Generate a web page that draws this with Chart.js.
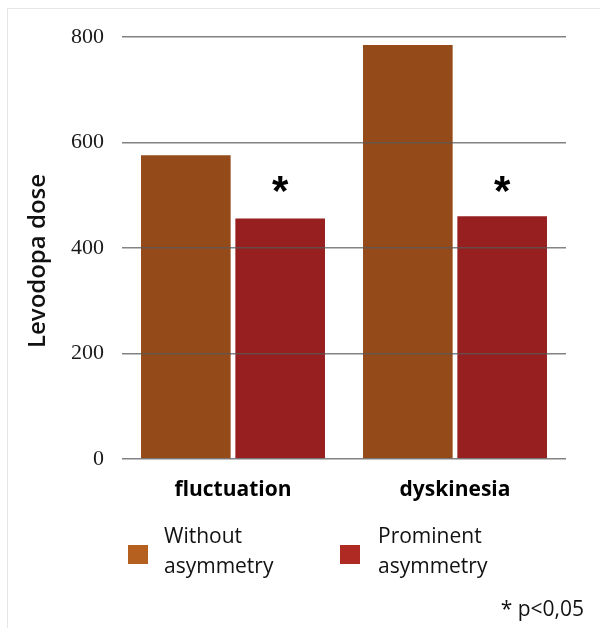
<!DOCTYPE html>
<html><head><meta charset="utf-8">
<script src="https://cdn.jsdelivr.net/npm/chart.js@4/dist/chart.umd.min.js"></script>
<style>html,body{margin:0;padding:0;background:#fff;}#wrap{position:relative;width:600px;height:628px;}
#frame{position:absolute;left:7px;top:8px;width:600px;height:640px;border:1px solid #e6e6e6;box-sizing:border-box;}</style>
</head><body><div id="wrap"><div id="frame"></div><canvas id="c" width="600" height="628"></canvas></div>
<script>
const categories = ["fluctuation", "dyskinesia"];
const seriesNames = [["Without", "asymmetry"], ["Prominent", "asymmetry"]];
const withoutAsymmetry = [576, 785];
const prominentAsymmetry = [456, 460];
const significant = [true, true];
const yTicks = [0, 200, 400, 600, 800];
const yTitle = "Levodopa dose";
const footnote = "* p<0,05";
const barColors = ["#954a1a", "#971f1f"];
const legendColors = ["#b5601f", "#af2a22"];

const overlay = {
  id: 'overlay',
  afterDatasetsDraw(chart) {
    const ctx = chart.ctx;
    const meta = chart.getDatasetMeta(1);
    ctx.save();
    ctx.fillStyle = '#000';
    ctx.font = 'bold 42px "Liberation Sans"';
    ctx.textAlign = 'center';
    ctx.textBaseline = 'alphabetic';
    meta.data.forEach((bar, i) => {
      if (significant[i]) ctx.fillText('*', bar.x, 205);
    });
    ctx.restore();
  },
  afterDraw(chart) {
    const ctx = chart.ctx;
    ctx.save();
    ctx.translate(38, (chart.chartArea.top + chart.chartArea.bottom) / 2 + 13);
    ctx.rotate(-Math.PI / 2);
    ctx.font = '600 24px "Open Sans"';
    ctx.fillStyle = '#111';
    ctx.textAlign = 'center';
    ctx.textBaseline = 'middle';
    ctx.fillText(yTitle, 0, 0);
    ctx.restore();

    ctx.save();
    ctx.font = '21px "Open Sans"';
    ctx.textBaseline = 'alphabetic';
    ctx.textAlign = 'left';
    const sq = [[128, 545], [340, 545]];
    const tx = [164, 378];
    for (let i = 0; i < 2; i++) {
      ctx.fillStyle = legendColors[i];
      ctx.fillRect(sq[i][0], sq[i][1], 20, 19);
      ctx.fillStyle = '#111';
      ctx.fillText(seriesNames[i][0], tx[i], 543);
      ctx.fillText(seriesNames[i][1], tx[i], 573);
    }
    ctx.textAlign = 'right';
    ctx.fillText(footnote, 584, 616);
    ctx.restore();
  }
};

new Chart(document.getElementById('c'), {
  type: 'bar',
  data: {
    labels: categories,
    datasets: [
      { label: seriesNames[0].join(' '), data: withoutAsymmetry, backgroundColor: barColors[0], categoryPercentage: 0.85, barPercentage: 0.95 },
      { label: seriesNames[1].join(' '), data: prominentAsymmetry, backgroundColor: barColors[1], categoryPercentage: 0.85, barPercentage: 0.95 }
    ]
  },
  options: {
    responsive: false,
    animation: false,
    layout: { padding: { left: 0, right: 34, top: 37, bottom: 0 } },
    plugins: { legend: { display: false }, tooltip: { enabled: false } },
    scales: {
      x: {
        grid: { display: false },
        border: { display: false },
        ticks: { color: '#000', font: { family: 'Open Sans', size: 21, weight: 'bold' }, padding: 10 },
        afterFit(s) { s.height = 628 - 459; }
      },
      y: {
        min: 0, max: 800,
        afterBuildTicks(s) { s.ticks = yTicks.map(v => ({ value: v })); },
        grid: { color: 'rgba(90,90,90,0.75)', lineWidth: 1.5, drawTicks: false, z: 1 },
        border: { display: false },
        ticks: { color: '#1a1a1a', font: { family: 'Liberation Serif', size: 22 }, padding: 18 },
        title: { display: false },
        afterFit(s) { s.width = 122; }
      }
    }
  },
  plugins: [overlay]
});
</script></body></html>
